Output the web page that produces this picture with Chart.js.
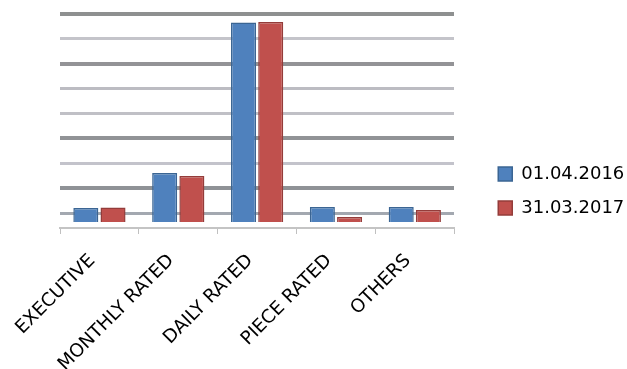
<!DOCTYPE html>
<html>
<head>
<meta charset="utf-8">
<script src="https://cdn.jsdelivr.net/npm/chart.js@4.4.0/dist/chart.umd.min.js"></script>
<style>
    body { margin: 0; background: #ffffff; }
    #myChart { display: block; }
</style>
</head>
<body>
<canvas id="myChart" width="627" height="369"></canvas>
<script>
var categories = ["EXECUTIVE", "MONTHLY RATED", "DAILY RATED", "PIECE RATED", "OTHERS"];
var seriesNames = ["01.04.2016", "31.03.2017"];
var values2016 = [56, 197, 802, 60, 60];
var values2017 = [58, 185, 804, 20, 48];
var gridSteps = [0, 100, 200, 300, 400, 500, 600, 700, 800];

// back wall lines alternate darker / lighter like the 3D original
var gridColors = ["#a3a8b0", "#8f9296", "#c3c3cb", "#919396", "#c0c0c6", "#bcbcc2", "#939396", "#c4c4ca", "#8e9090"];
var gridWidths = [3, 4, 3, 4, 3, 3, 4, 3, 4];

new Chart("myChart", {
    type: "bar",
    data: {
        labels: categories,
        datasets: [{
            label: seriesNames[0],
            data: values2016,
            backgroundColor: "#4F81BD",
            borderColor: "#3B6593",
            borderWidth: 1.5,
            yAxisID: "y"
        }, {
            label: seriesNames[1],
            data: values2017,
            backgroundColor: "#C0504D",
            borderColor: "#943C3A",
            borderWidth: 1.5,
            yAxisID: "y"
        }]
    },
    options: {
        responsive: false,
        animation: false,
        layout: { padding: { left: 60, top: 13, right: 4, bottom: 0 } },
        datasets: { bar: { categoryPercentage: 0.69, barPercentage: 0.92 } },
        plugins: {
            tooltip: { enabled: false },
            legend: {
                position: "right",
                labels: {
                    boxWidth: 14,
                    boxHeight: 14,
                    padding: 16,
                    color: "#000000",
                    font: { family: "DejaVu Sans", size: 18 }
                }
            }
        },
        scales: {
            x: {
                grid: { display: true, drawOnChartArea: false, tickLength: 6, color: "#c0c0c0" },
                border: { display: true, color: "#c4c4c4", width: 2 },
                ticks: {
                    minRotation: 45,
                    maxRotation: 45,
                    padding: 16,
                    labelOffset: -7,
                    color: "#000000",
                    font: { family: "DejaVu Sans", size: 18.5 }
                },
                afterFit: function (scale) { scale.height = 141; }
            },
            y: {
                display: false,
                min: -24,
                max: 840
            },
            y2: {
                position: "right",
                min: -60,
                max: 804,
                ticks: { display: false, stepSize: 100, includeBounds: false },
                border: { display: false },
                grid: {
                    drawTicks: false,
                    color: function (ctx) {
                        var i = gridSteps.indexOf(ctx.tick.value);
                        return i < 0 ? "rgba(0,0,0,0)" : gridColors[i];
                    },
                    lineWidth: function (ctx) {
                        var i = gridSteps.indexOf(ctx.tick.value);
                        return i < 0 ? 0 : gridWidths[i];
                    }
                },
                afterBuildTicks: function (scale) {
                    scale.ticks = scale.ticks.filter(function (t) { return gridSteps.indexOf(t.value) >= 0; });
                },
                afterFit: function (scale) { scale.width = 28; }
            }
        }
    }
});
</script>
</body>
</html>
